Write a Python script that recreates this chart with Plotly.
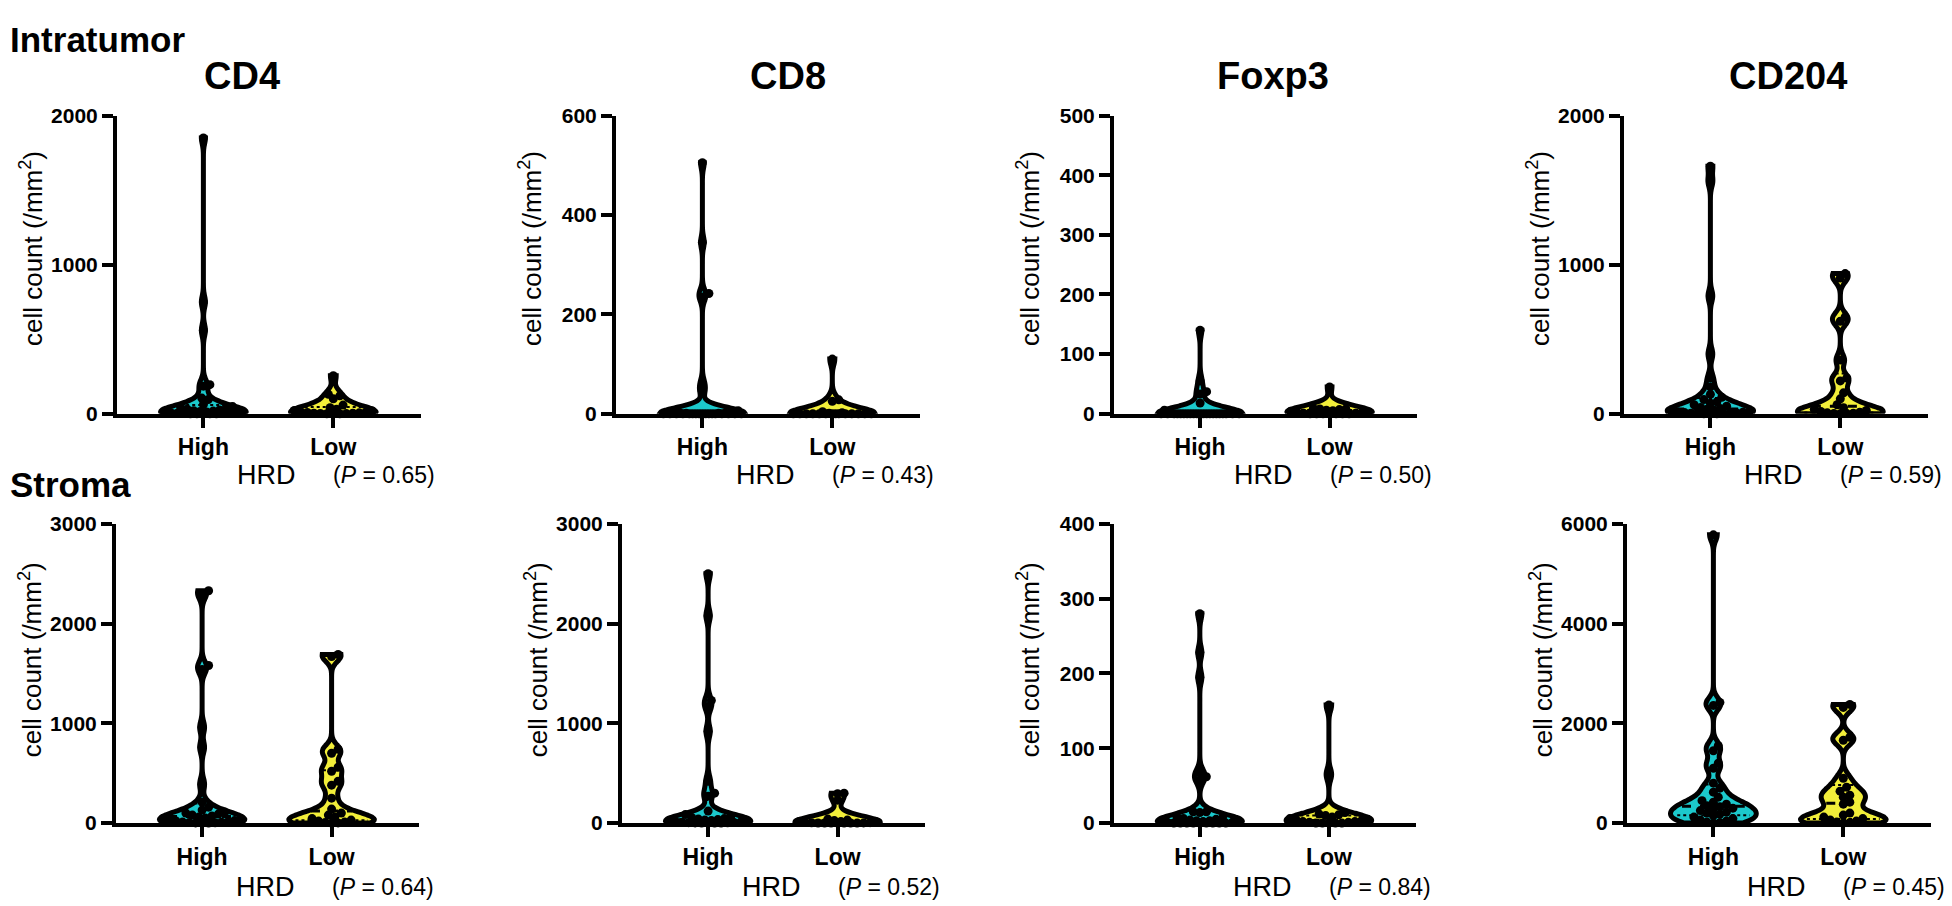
import numpy as np
import plotly.graph_objects as go

W, H = 1952, 906

# ---------------- data ----------------
markers = ["CD4", "CD8", "Foxp3", "CD204"]
groups = ["High", "Low"]
regions = ["Intratumor", "Stroma"]

intra_cd4_high = [1850, 750, 560, 195, 185, 105, 95, 62, 48, 40, 35, 30, 25, 20, 18, 15, 12, 10, 8, 6, 5, 4, 3, 2, 1, 0, 0, 0, 0, 0]
intra_cd4_low = [255, 130, 120, 100, 58, 40, 30, 22, 18, 12, 10, 8, 6, 4, 3, 2, 1, 0, 0, 0]
intra_cd8_high = [505, 345, 242, 235, 60, 45, 6, 3, 2, 2, 1, 1, 1, 0, 0, 0, 0, 0, 0, 0, 0, 0, 0, 0, 0, 0, 0, 0, 0, 0]
intra_cd8_low = [110, 28, 25, 4, 2, 1, 0, 0, 0, 0, 0, 0, 0, 0, 0, 0, 0, 0, 0, 0]
intra_foxp3_high = [140, 55, 37, 33, 18, 6, 2, 1, 1, 0, 0, 0, 0, 0, 0, 0, 0, 0, 0, 0, 0, 0, 0, 0, 0, 0, 0, 0, 0, 0]
intra_foxp3_low = [45, 9, 8, 8, 7, 6, 5, 4, 3, 2, 2, 1, 1, 0, 0, 0, 0, 0, 0, 0]
intra_cd204_high = [1660, 1560, 790, 400, 240, 180, 130, 110, 95, 80, 70, 60, 50, 42, 35, 30, 25, 20, 16, 12, 10, 8, 6, 4, 3, 2, 1, 0, 0, 0]
intra_cd204_low = [940, 910, 650, 620, 360, 240, 220, 140, 100, 60, 40, 30, 22, 15, 10, 6, 4, 2, 1, 0]

stroma_cd4_high = [2330, 2290, 1580, 1540, 960, 760, 390, 210, 160, 130, 110, 100, 90, 80, 70, 60, 50, 45, 40, 30, 25, 20, 15, 10, 8, 5, 3, 2, 1, 0]
stroma_cd4_low = [1690, 1670, 740, 700, 560, 520, 420, 380, 250, 140, 100, 80, 60, 45, 30, 20, 10, 5, 2, 0]
stroma_cd8_high = [2500, 2080, 1230, 1170, 920, 420, 300, 270, 120, 85, 70, 55, 45, 40, 35, 30, 25, 20, 15, 12, 10, 8, 6, 4, 3, 2, 1, 0, 0, 0]
stroma_cd8_low = [300, 295, 230, 40, 30, 25, 15, 10, 8, 5, 4, 3, 2, 1, 0, 0, 0, 0, 0, 0]
stroma_foxp3_high = [280, 228, 195, 68, 62, 58, 15, 15, 14, 8, 7, 6, 5, 4, 3, 3, 2, 2, 1, 1, 1, 0, 0, 0, 0, 0, 0, 0, 0, 0]
stroma_foxp3_low = [158, 65, 14, 12, 11, 10, 8, 6, 5, 4, 3, 2, 2, 1, 1, 0, 0, 0, 0, 0]
stroma_cd204_high = [5780, 2420, 2360, 1550, 1450, 1200, 1100, 800, 700, 620, 520, 450, 420, 380, 350, 330, 300, 280, 250, 220, 200, 180, 150, 120, 90, 60, 40, 20, 10, 0]
stroma_cd204_low = [2380, 2320, 1720, 1660, 900, 720, 640, 560, 520, 420, 380, 200, 160, 120, 90, 60, 40, 20, 10, 0]

y_max = [2000, 600, 500, 2000, 3000, 3000, 400, 6000]
y_dtick = [1000, 200, 100, 1000, 1000, 1000, 100, 2000]
p_values = ["0.65", "0.43", "0.50", "0.59", "0.64", "0.52", "0.84", "0.45"]

panel_data = [
    (intra_cd4_high, intra_cd4_low), (intra_cd8_high, intra_cd8_low),
    (intra_foxp3_high, intra_foxp3_low), (intra_cd204_high, intra_cd204_low),
    (stroma_cd4_high, stroma_cd4_low), (stroma_cd8_high, stroma_cd8_low),
    (stroma_foxp3_high, stroma_foxp3_low), (stroma_cd204_high, stroma_cd204_low),
]

# ---------------- style / layout ----------------
FONT = "Arial, Liberation Sans, sans-serif"
COLORS = ["#1CC9CC", "#F2EE3A"]
AX_LW = 4
VIO_LW = 5
X_RANGE = [-0.665, 1.675]
VIOLIN_W = 0.66

# plot-area pixel boxes (left, right) per panel; rows (top, bottom)
x_px = [(107, 413), (606, 912), (1104, 1409), (1614, 1920),
        (106, 411), (612, 917), (1104, 1408), (1617, 1923)]
y_px = [(98, 406), (517, 826)]


def swarm(vals, sy, sx, d, limit):
    vals = np.asarray(vals, dtype=float)
    order = np.argsort(vals, kind="stable")
    placed = []
    out = np.zeros(len(vals))
    step = d / 4.0
    cands = [0.0] + [s * k * step for k in range(1, 400) for s in (1, -1)]
    for idx in order:
        y = vals[idx] * sy
        best = None
        for c in cands:
            if abs(c) > limit:
                break
            if all((c - px) ** 2 + (y - py) ** 2 >= d * d for px, py in placed):
                best = c
                break
        if best is None:
            opts = [c for c in cands if abs(c) <= limit]
            best = max(opts, key=lambda c: min(
                [(c - px) ** 2 + (y - py) ** 2 for px, py in placed] or [1e9]))
        placed.append((best, y))
        out[idx] = best / sx
    return out


def kde_halfwidth(vals, bw, at):
    v = np.asarray(vals, dtype=float)
    grid = np.linspace(v.min(), v.max(), 400)

    def dens(t):
        t = np.atleast_1d(t)
        return np.exp(-0.5 * ((t[:, None] - v[None, :]) / bw) ** 2).sum(axis=1)

    mx = dens(grid).max()
    return (VIOLIN_W / 2) * dens(at) / mx


fig = go.Figure()
layout = dict(
    width=W, height=H, margin=dict(l=0, r=0, t=0, b=0),
    paper_bgcolor="white", plot_bgcolor="white",
    showlegend=False, violinmode="overlay",
    font=dict(family=FONT, color="black"),
)
annotations = []

for i in range(8):
    row = i // 4
    ax = i + 1
    xa = "x" if ax == 1 else f"x{ax}"
    ya = "y" if ax == 1 else f"y{ax}"
    l, r = x_px[i]
    t, b = y_px[row]
    ymax = y_max[i]
    plot_h = (b - 2) - t
    plot_w = r - (l + 2)
    sy = plot_h / ymax
    sx = plot_w / (X_RANGE[1] - X_RANGE[0])
    bw = 0.02 * ymax

    for j, vals in enumerate(panel_data[i]):
        fig.add_trace(go.Violin(
            x=[j] * len(vals), y=vals, xaxis=xa, yaxis=ya,
            spanmode="hard", bandwidth=bw, width=VIOLIN_W, scalemode="width",
            fillcolor=COLORS[j], line=dict(color="black", width=VIO_LW),
            points=False, box_visible=False, meanline_visible=False,
            hoverinfo="skip", orientation="v",
        ))
        q1, med, q3 = np.percentile(vals, [25, 50, 75])
        for q, dash, wdt in ((med, "dash", 3), (q1, "dot", 2), (q3, "dot", 2)):
            hw = float(kde_halfwidth(vals, bw, q)[0]) * 0.85
            fig.add_trace(go.Scatter(
                x=[j - hw, j + hw], y=[q, q], xaxis=xa, yaxis=ya, mode="lines",
                line=dict(color="black", width=wdt, dash=dash), hoverinfo="skip",
            ))
        offs = swarm(vals, sy, sx, 6.5, VIOLIN_W / 2 * sx)
        fig.add_trace(go.Scatter(
            x=j + offs, y=vals, xaxis=xa, yaxis=ya, mode="markers",
            marker=dict(color="black", size=9, line=dict(width=0)),
            cliponaxis=False, hoverinfo="skip",
        ))

    xkey = "xaxis" if ax == 1 else f"xaxis{ax}"
    ykey = "yaxis" if ax == 1 else f"yaxis{ax}"
    layout[xkey] = dict(
        domain=[(l + 2) / W, r / W], anchor=ya, range=X_RANGE,
        tickvals=[0, 1], ticktext=[f"<b>{g}</b>" for g in groups],
        showgrid=False, zeroline=False,
        showline=True, linecolor="black", linewidth=AX_LW,
        ticks="outside", ticklen=10, tickwidth=AX_LW, tickcolor="black",
        tickfont=dict(family=FONT, size=23, color="black"),
        fixedrange=True,
    )
    layout[ykey] = dict(
        domain=[1 - (b - 2) / H, 1 - t / H], anchor=xa, range=[0, ymax],
        tickvals=list(range(0, ymax + 1, y_dtick[i])),
        ticktext=[f"<b>{v}</b>" for v in range(0, ymax + 1, y_dtick[i])],
        showgrid=False, zeroline=False,
        showline=True, linecolor="black", linewidth=AX_LW,
        ticks="outside", ticklen=11, tickwidth=AX_LW, tickcolor="black",
        tickfont=dict(family=FONT, size=21, color="black"),
        fixedrange=True,
    )

    if row == 0:
        title_cx = [234, 780, 1265, 1780][i]
        annotations.append(dict(
            text=f"<b>{markers[i]}</b>", xref="paper", yref="paper",
            x=title_cx / W, y=1 - 57 / H, xanchor="center", yanchor="middle",
            showarrow=False, font=dict(family=FONT, size=38, color="black"),
        ))
    ytitle_cx = l - 84
    ytitle_cy = [235, 657][row]
    annotations.append(dict(
        text="cell count (/mm<sup>2</sup>)", xref="paper", yref="paper",
        x=ytitle_cx / W, y=1 - ytitle_cy / H, xanchor="center", yanchor="middle",
        textangle=-90, showarrow=False,
        font=dict(family=FONT, size=26, color="black"),
    ))
    hrd_cy = [467, 890][row]
    annotations.append(dict(
        text="HRD", xref=xa, yref="paper", x=0.245, y=1 - hrd_cy / H,
        xanchor="left", yanchor="middle", showarrow=False,
        font=dict(family=FONT, size=27, color="black"),
    ))
    annotations.append(dict(
        text=f"(<i>P</i> = {p_values[i]})", xref=xa, yref="paper", x=0.985,
        y=1 - hrd_cy / H, xanchor="left", yanchor="middle", showarrow=False,
        font=dict(family=FONT, size=23, color="black"),
    ))

annotations.append(dict(
    text=f"<b>{regions[0]}</b>", xref="paper", yref="paper", x=0, y=1 - 20 / H,
    xanchor="left", yanchor="middle", showarrow=False,
    font=dict(family=FONT, size=35, color="black"),
))
annotations.append(dict(
    text=f"<b>{regions[1]}</b>", xref="paper", yref="paper", x=0, y=1 - 477 / H,
    xanchor="left", yanchor="middle", showarrow=False,
    font=dict(family=FONT, size=35, color="black"),
))

layout["annotations"] = annotations
fig.update_layout(**layout)
fig.write_html("out.html")
